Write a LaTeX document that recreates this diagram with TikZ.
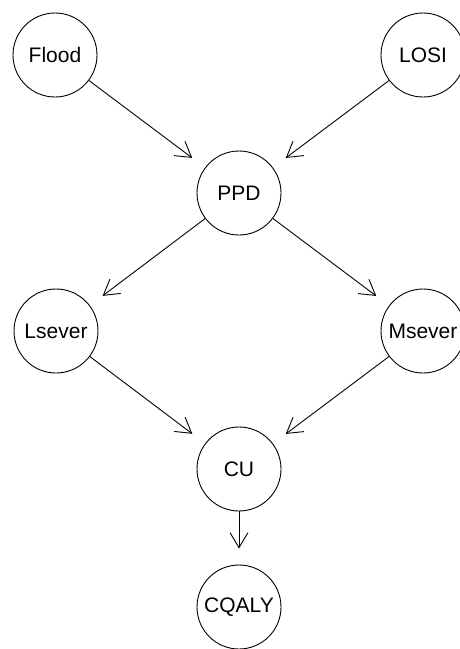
\documentclass[tikz,border=0pt]{standalone}
\usepackage{fontspec}
\setmainfont{Liberation Sans}
\usetikzlibrary{arrows.meta}
\begin{document}
\begin{tikzpicture}[x=1pt,y=-1pt,
  bnnode/.style={draw, circle, minimum size=84pt, inner sep=0pt, line width=0.9pt,
    font=\fontsize{21}{25}\selectfont},
  bnedge/.style={line width=0.9pt, -{Straight Barb[length=15pt,width=18pt,line width=0.9pt]}, shorten >=16pt}]
\clip (0,0) rectangle (460,649);
\useasboundingbox (0,0) rectangle (460,649);
\node[bnnode] (flood) at (55,55) {Flood};
\node[bnnode] (losi) at (423,55) {LOSI};
\node[bnnode] (ppd) at (239,193) {PPD};
\node[bnnode] (lsever) at (56,331) {Lsever};
\node[bnnode] (msever) at (423,331) {Msever};
\node[bnnode] (cu) at (239,469) {CU};
\node[bnnode] (cqaly) at (239,607) {CQALY};
\draw[bnedge] (flood) -- (ppd);
\draw[bnedge] (losi) -- (ppd);
\draw[bnedge] (ppd) -- (lsever);
\draw[bnedge] (ppd) -- (msever);
\draw[bnedge] (lsever) -- (cu);
\draw[bnedge] (msever) -- (cu);
\draw[bnedge] (cu) -- (cqaly);
\end{tikzpicture}
\end{document}
